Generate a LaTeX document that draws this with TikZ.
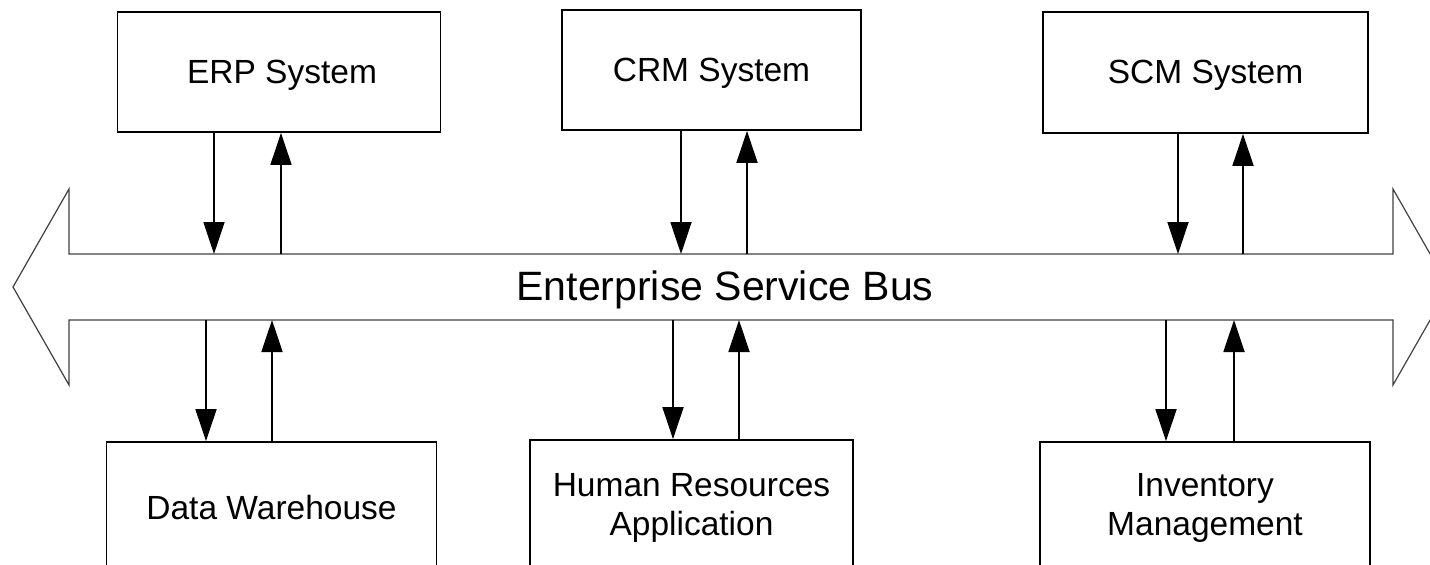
\documentclass[tikz,border=0pt]{standalone}
\usepackage{fontspec}
\setmainfont{Liberation Sans}
\usetikzlibrary{arrows.meta}
\begin{document}
\begin{tikzpicture}[x=1pt,y=-1pt,
  sysbox/.style={draw=black,line width=1.8pt,rectangle,inner sep=0pt},
  boxtext/.style={align=center,font=\fontsize{33.5}{38.5}\selectfont,yshift=-3pt},
  flow/.style={line width=1.8pt,-{Triangle[length=32pt,width=21pt]}},
  busline/.style={draw=black!75,line width=1.2pt,line join=miter}]
\useasboundingbox (0,0) rectangle (1430,565);
\clip (0,0) rectangle (1430,565);
% bus
\draw[busline] (69,254) -- (69,189) -- (13,287) -- (69,385) -- (69,320) -- (1393,320)
  -- (1393,385) -- (1449,287) -- (1393,189) -- (1393,254) -- cycle;
\node[font=\fontsize{41}{46}\selectfont,yshift=-3pt] (bus) at (725,287) {Enterprise Service Bus};
% top boxes
\node[sysbox,minimum width=323pt,minimum height=120pt,
  label={[boxtext,xshift=3pt]center:ERP System}] (erp) at (279,72) {};
\node[sysbox,minimum width=299pt,minimum height=120pt,
  label={[boxtext]center:CRM System}] (crm) at (711.5,70) {};
\node[sysbox,minimum width=325pt,minimum height=121pt,
  label={[boxtext]center:SCM System}] (scm) at (1205.5,72.5) {};
% bottom boxes
\node[sysbox,minimum width=330pt,minimum height=126pt,
  label={[boxtext]center:Data Warehouse}] (dw) at (271.5,505) {};
\node[sysbox,minimum width=323pt,minimum height=130pt,
  label={[boxtext]center:Human Resources\\Application}] (hr) at (691.5,505) {};
\node[sysbox,minimum width=330pt,minimum height=126pt,
  label={[boxtext]center:Inventory\\Management}] (inv) at (1205,505) {};
% bus attachment points
\coordinate (e1) at (214,254); \coordinate (e2) at (281,254);
\coordinate (c1) at (681,254); \coordinate (c2) at (747,254);
\coordinate (s1) at (1178,254); \coordinate (s2) at (1243,254);
\coordinate (d1) at (206,320); \coordinate (d2) at (272,320);
\coordinate (h1) at (673,320); \coordinate (h2) at (739,320);
\coordinate (i1) at (1166,320); \coordinate (i2) at (1234,320);
% arrows
\draw[flow] (erp.south -| e1) -- (e1);
\draw[flow] (e2) -- (erp.south -| e2);
\draw[flow] (crm.south -| c1) -- (c1);
\draw[flow] (c2) -- (crm.south -| c2);
\draw[flow] (scm.south -| s1) -- (s1);
\draw[flow] (s2) -- (scm.south -| s2);
\draw[flow] (d1) -- (dw.north -| d1);
\draw[flow] (dw.north -| d2) -- (d2);
\draw[flow] (h1) -- (hr.north -| h1);
\draw[flow] (hr.north -| h2) -- (h2);
\draw[flow] (i1) -- (inv.north -| i1);
\draw[flow] (inv.north -| i2) -- (i2);
\end{tikzpicture}
\end{document}
